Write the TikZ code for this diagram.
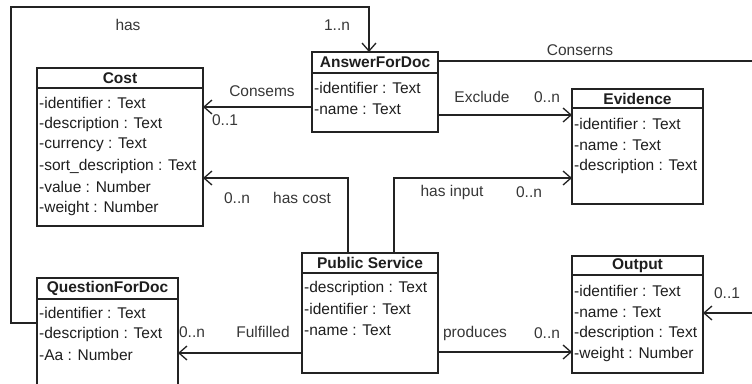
\documentclass[tikz,border=0pt]{standalone}
\usepackage{fontspec}
\setmainfont{Liberation Sans}
\usetikzlibrary{arrows.meta, positioning}
\definecolor{linegray}{RGB}{35,35,35}
\definecolor{textgray}{RGB}{30,30,30}
\definecolor{labelgray}{RGB}{55,55,55}

\begin{document}
\begin{tikzpicture}[x=1pt, y=-1pt,
    classbox/.style={draw=linegray, line width=1.3pt, inner sep=0pt, outer sep=0pt, anchor=north west},
    classname/.style={font=\fontsize{15.5}{18}\selectfont\bfseries, text=textgray, inner sep=0pt},
    attr/.style={font=\fontsize{15.5}{18}\selectfont, text=textgray, anchor=west, inner xsep=2pt, inner ysep=0pt},
    rolelabel/.style={font=\fontsize{15.5}{18}\selectfont, text=labelgray, inner sep=0pt},
    plainline/.style={draw=linegray, line width=1.3pt},
    assoc/.style={plainline, -{Straight Barb[length=8pt, width=14pt, line width=1.3pt]}}]
    \fill[white] (0,0) rectangle (752,383);
    \useasboundingbox (0,0) rectangle (752,383);
    \clip (0,0) rectangle (752,383);

    % Cost
    \node[classbox, minimum width=166, minimum height=158] (cost) at (37,68) {};
    \draw[plainline] (cost.west |- 0,88) -- (cost.east |- 0,88);
    \node[classname] (cost-t) at (120,78) {Cost};
    \foreach \i/\attrname in {0/identifier : Text, 1/description : Text, 2/currency : Text,
        3/sort\_description : Text, 4/value : Number, 5/weight : Number} {
        \node[attr] (cost-a\i) at (cost.west |- 0,{103+\i*21}) {-\attrname};
    }

    % AnswerForDoc
    \node[classbox, minimum width=126, minimum height=80] (ans) at (312,52) {};
    \draw[plainline] (ans.west |- 0,73) -- (ans.east |- 0,73);
    \node[classname] (ans-t) at (375,62.5) {AnswerForDoc};
    \foreach \i/\attrname in {0/identifier : Text, 1/name : Text} {
        \node[attr] (ans-a\i) at (ans.west |- 0,{88+\i*21}) {-\attrname};
    }

    % Evidence
    \node[classbox, minimum width=131, minimum height=115] (ev) at (572,89) {};
    \draw[plainline] (ev.west |- 0,108) -- (ev.east |- 0,108);
    \node[classname] (ev-t) at (637.5,98.5) {Evidence};
    \foreach \i/\attrname in {0/identifier : Text, 1/name : Text, 2/description : Text} {
        \node[attr] (ev-a\i) at (ev.west |- 0,{124+\i*21}) {-\attrname};
    }

    % Public Service
    \node[classbox, minimum width=136, minimum height=120] (ps) at (302,253) {};
    \draw[plainline] (ps.west |- 0,273) -- (ps.east |- 0,273);
    \node[classname] (ps-t) at (370,263) {Public Service};
    \foreach \i/\attrname in {0/description : Text, 1/identifier : Text, 2/name : Text} {
        \node[attr] (ps-a\i) at (ps.west |- 0,{288+\i*21}) {-\attrname};
    }

    % QuestionForDoc (runs past the lower edge)
    \node[classbox, minimum width=141, minimum height=120] (q) at (37,278) {};
    \draw[plainline] (q.west |- 0,299) -- (q.east |- 0,299);
    \node[classname] (q-t) at (107.5,288.5) {QuestionForDoc};
    \foreach \i/\attrname in {0/identifier : Text, 1/description : Text, 2/Aa : Number} {
        \node[attr] (q-a\i) at (q.west |- 0,{313+\i*21}) {-\attrname};
    }

    % Output
    \node[classbox, minimum width=131, minimum height=117] (out) at (572,256) {};
    \draw[plainline] (out.west |- 0,275) -- (out.east |- 0,275);
    \node[classname] (out-t) at (637.5,265.5) {Output};
    \foreach \i/\attrname in {0/identifier : Text, 1/name : Text, 2/description : Text, 3/weight : Number} {
        \node[attr] (out-a\i) at (out.west |- 0,{291+\i*21}) {-\attrname};
    }

    % has
    \coordinate (hasA) at (11,323);
    \coordinate (hasB) at (11,7);
    \coordinate (hasC) at (369,7);
    \draw[assoc] (q.west |- hasA) -- (hasA) -- (hasB) -- (hasC) -- (hasC |- ans.north);
    \node[rolelabel] (lbl-has) at (128,25) {has};
    \node[rolelabel] (lbl-has-m) at (337,25) {1..n};

    % Consems
    \draw[assoc] (ans.west |- 0,107) -- (cost.east |- 0,107);
    \node[rolelabel] (lbl-consems) at (262,91) {Consems};
    \node[rolelabel] (lbl-consems-m) at (225,120) {0..1};

    % Conserns
    \coordinate (edgeA) at (752,61);
    \draw[plainline] (ans.east |- edgeA) -- (edgeA);
    \node[rolelabel] (lbl-conserns) at (580,50) {Conserns};

    % Exclude
    \draw[assoc] (ans.east |- 0,115) -- (ev.west |- 0,115);
    \node[rolelabel] (lbl-exclude) at (482,97) {Exclude};
    \node[rolelabel] (lbl-exclude-m) at (547,97) {0..n};

    % has cost
    \draw[assoc] (ps.north -| 348,0) -- (348,178) -- (cost.east |- 0,178);
    \node[rolelabel] (lbl-cost-m) at (237,198) {0..n};
    \node[rolelabel] (lbl-cost) at (302,198) {has cost};

    % has input
    \draw[assoc] (ps.north -| 394,0) -- (394,178) -- (ev.west |- 0,178);
    \node[rolelabel] (lbl-input) at (452,192) {has input};
    \node[rolelabel] (lbl-input-m) at (529,192) {0..n};

    % Fulfilled
    \draw[assoc] (ps.west |- 0,353) -- (q.east |- 0,353);
    \node[rolelabel] (lbl-fulfil-m) at (192,332) {0..n};
    \node[rolelabel] (lbl-fulfil) at (263,332) {Fulfilled};

    % produces
    \draw[assoc] (ps.east |- 0,352) -- (out.west |- 0,352);
    \node[rolelabel] (lbl-produces) at (475,333) {produces};
    \node[rolelabel] (lbl-produces-m) at (547,333) {0..n};

    % from the right edge into Output
    \coordinate (edgeB) at (752,313);
    \draw[assoc] (edgeB) -- (out.east |- edgeB);
    \node[rolelabel] (lbl-out-m) at (727,293) {0..1};
\end{tikzpicture}
\end{document}
